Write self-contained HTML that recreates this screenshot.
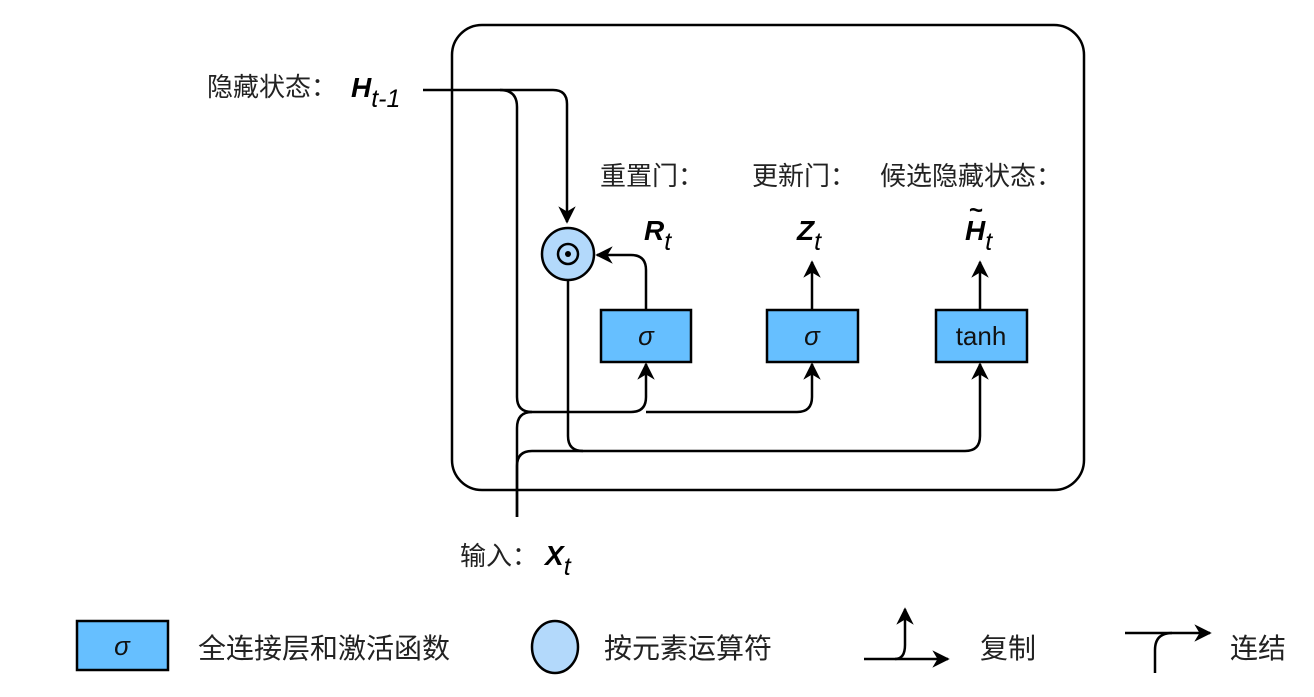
<!DOCTYPE html>
<html><head><meta charset="utf-8"><style>
body{margin:0;background:#fff}
svg text{font-family:"Liberation Sans","Noto Sans CJK SC",sans-serif}
.cn{font-size:26px;fill:#222}
.lg{font-size:28px;fill:#222}
</style></head><body>
<svg width="1314" height="692" viewBox="0 0 1314 692" xmlns="http://www.w3.org/2000/svg">
<defs><marker id="a" viewBox="0 0 10 10" refX="9" refY="5" markerWidth="7" markerHeight="7" orient="auto-start-reverse"><path d="M0,0 L10,5 L0,10 L3,5 z" fill="#000"/></marker></defs>
<rect x="0" y="0" width="1314" height="692" fill="#fff"/>
<rect x="452" y="25" width="632" height="465" rx="30" fill="none" stroke="#000" stroke-width="2.5"/>
<g fill="none" stroke="#000" stroke-width="2.5">
<path d="M423,90 H553 Q567,90 567,104 V222" marker-end="url(#a)"/>
<path d="M500,90 Q517,90 517,107 V397 Q517,412 532,412 H631 Q646,412 646,397 V364" marker-end="url(#a)"/>
<path d="M646,412 H797 Q812,412 812,397 V364" marker-end="url(#a)"/>
<path d="M517,517 V428 Q517,412 532,412"/>
<path d="M517,517 V466 Q517,451 532,451 H965 Q980,451 980,436 V364" marker-end="url(#a)"/>
<path d="M568,280 V436 Q568,451 583,451"/>
<path d="M646,309 V270 Q646,255 631,255 H597" marker-end="url(#a)"/>
<path d="M812,309 V262" marker-end="url(#a)"/>
<path d="M980,309 V262" marker-end="url(#a)"/>
</g>
<circle cx="568" cy="254" r="26" fill="#b3d9fb" stroke="#000" stroke-width="2.5"/>
<circle cx="568" cy="254" r="10" fill="none" stroke="#000" stroke-width="2.5"/>
<circle cx="568" cy="254" r="3" fill="#000"/>
<g stroke="#000" stroke-width="2.5" fill="#66bfff">
<rect x="601" y="310" width="90" height="52"/>
<rect x="767" y="310" width="91" height="52"/>
<rect x="936" y="310" width="91" height="52"/>
<rect x="77" y="621" width="91" height="49"/>
</g>
<g font-size="26" text-anchor="middle" fill="#111">
<text x="646" y="345" font-style="italic">σ</text>
<text x="812" y="345" font-style="italic">σ</text>
<text x="981" y="345">tanh</text>
<text x="122" y="655" font-style="italic">σ</text>
</g>
<text class="cn" x="600" y="185">重置门：</text>
<text class="cn" x="752" y="185">更新门：</text>
<text class="cn" x="880" y="185">候选隐藏状态：</text>
<text class="cn" x="207" y="96">隐藏状态：</text>
<text x="351" y="97" font-size="28" font-weight="bold" font-style="italic">H<tspan font-size="25" font-weight="normal" dy="10">t-1</tspan></text>
<text class="cn" x="460" y="565">输入：</text>
<text x="545" y="565" font-size="28" font-weight="bold" font-style="italic">X<tspan font-size="25" font-weight="normal" dy="10">t</tspan></text>
<text x="644" y="240" font-size="28" font-weight="bold" font-style="italic">R<tspan font-size="25" font-weight="normal" dy="10">t</tspan></text>
<text x="797" y="240" font-size="28" font-weight="bold" font-style="italic">Z<tspan font-size="25" font-weight="normal" dy="10">t</tspan></text>
<text x="965" y="240" font-size="28" font-weight="bold" font-style="italic">H<tspan font-size="25" font-weight="normal" dy="10">t</tspan></text>
<text x="969" y="218" font-size="24" font-weight="bold">~</text>
<text class="lg" x="198" y="658">全连接层和激活函数</text>
<ellipse cx="555" cy="647" rx="23" ry="26" fill="#b3d9fb" stroke="#000" stroke-width="2.5"/>
<text class="lg" x="604" y="658">按元素运算符</text>
<g fill="none" stroke="#000" stroke-width="2.5">
<path d="M864,659 H948" marker-end="url(#a)"/>
<path d="M895,659 Q905,659 905,645 V609" marker-end="url(#a)"/>
<path d="M1125,633 H1210" marker-end="url(#a)"/>
<path d="M1155,673 V650 Q1155,633 1172,633"/>
</g>
<text class="lg" x="980" y="658">复制</text>
<text class="lg" x="1230" y="658">连结</text>
</svg>
</body></html>
